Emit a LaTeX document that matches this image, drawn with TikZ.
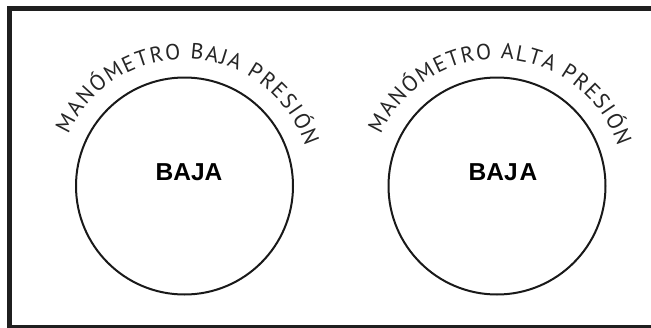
\documentclass[tikz,border=0pt]{standalone}
\usepackage{fontspec}
\setmainfont{Liberation Sans}
\newfontfamily\arcfont{PT Sans}
\newcommand\arcsize{\arcfont\fontsize{22}{22}\selectfont}
\usetikzlibrary{decorations.text,calc}
\tikzset{
  gauge/.style={circle, draw, line width=2pt, inner sep=0pt, minimum size=217pt, black!90},
  bigtext/.style={font=\fontsize{24.5}{24.5}\selectfont\bfseries, inner sep=0pt},
  frameline/.style={line width=5pt, black!88},
  arctext/.style={decorate, decoration={text along path, text align=fit to path,
     text color=black!85, text={#1}}}
}
\begin{document}
\begin{tikzpicture}[x=1pt,y=-1pt]
\useasboundingbox (0,0) rectangle (651,327);
\clip (0,0) rectangle (651,327);
\fill[white] (0,0) rectangle (651,327);
\draw[frameline] (9.5,8.5) rectangle (680,327.5);
\coordinate (c1) at (184.5,186);
\coordinate (c2) at (497,186);
\node[gauge] (g1) at (c1) {};
\node[gauge] (g2) at (c2) {};
\node[bigtext] (t1) at (189,172) {BAJA};
\node[bigtext] (t2) at (503,172) {BAJ\kern2pt A};
\begin{scope}
\arcsize
\path[arctext={MANÓMETRO BAJA PRESIÓN}] ($(c1)+(-156:127)$) arc[start angle=-156, end angle=-18, radius=127];
\path[arctext={MANÓMETRO ALTA PRESIÓN}] ($(c2)+(-156:127)$) arc[start angle=-156, end angle=-18, radius=127];
\end{scope}
\end{tikzpicture}
\end{document}
